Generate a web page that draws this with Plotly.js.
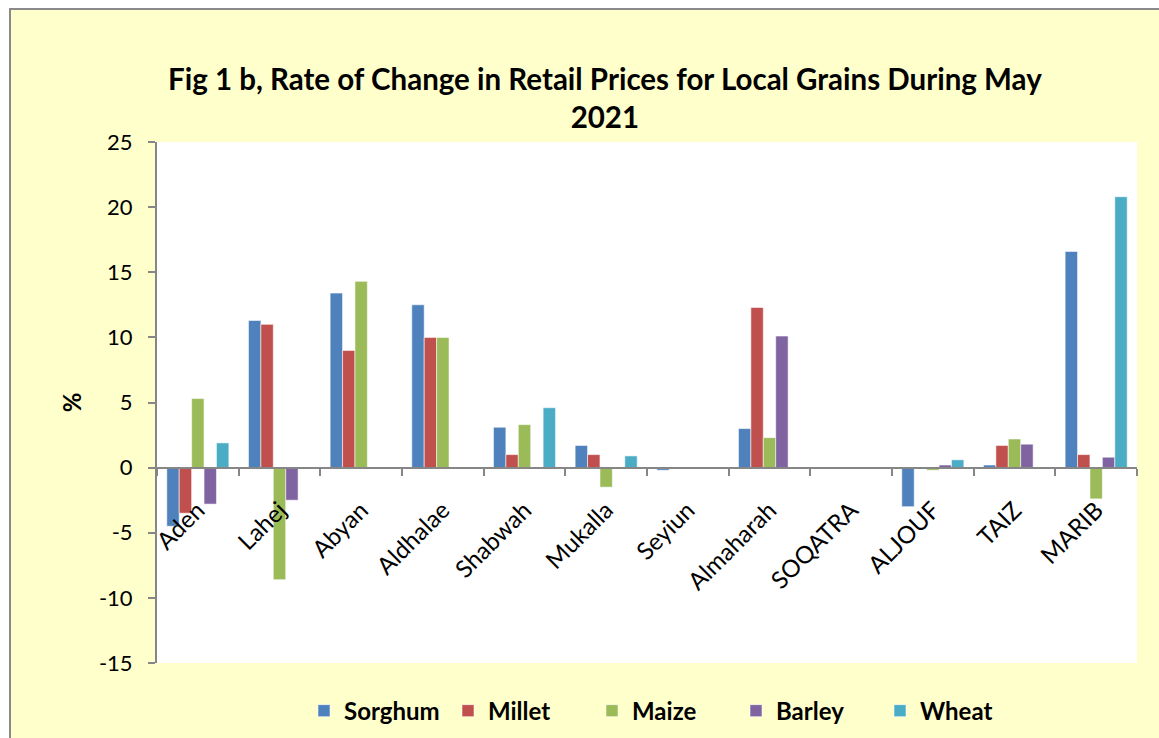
<!DOCTYPE html>
<html>
<head>
<meta charset="utf-8">
<script src="https://cdn.plot.ly/plotly-3.0.1.min.js"></script>
<style>
  html, body { margin: 0; padding: 0; background: #ffffff; width: 1159px; height: 738px; overflow: hidden; }
  #frame { position: absolute; left: 9px; top: 8px; width: 1160px; height: 740px;
           border-left: 2px solid #8a8a8a; border-top: 2px solid #8a8a8a; background: #FFFFCC; overflow: hidden; }
  #chart { position: absolute; left: -11px; top: -10px; width: 1159px; height: 738px; }
</style>
</head>
<body>
<div id="frame"><div id="chart"></div></div>
<script>
const categories = ["Aden", "Lahej", "Abyan", "Aldhalae", "Shabwah", "Mukalla", "Seyiun", "Almaharah", "SOQATRA", "ALJOUF", "TAIZ", "MARIB"];
const sorghum = [-4.5, 11.3, 13.4, 12.5, 3.1, 1.7, -0.2, 3.0, 0, -3.0, 0.2, 16.6];
const millet  = [-3.5, 11.0, 9.0, 10.0, 1.0, 1.0, 0, 12.3, 0, 0, 1.7, 1.0];
const maize   = [5.3, -8.6, 14.3, 10.0, 3.3, -1.5, 0, 2.3, 0, -0.2, 2.2, -2.4];
const barley  = [-2.8, -2.5, 0, 0, 0, 0, 0, 10.1, 0, 0.2, 1.8, 0.8];
const wheat   = [1.9, 0, 0, 0, 4.6, 0.9, 0, 0, 0, 0.6, 0, 20.8];
const seriesNames = ["Sorghum", "Millet", "Maize", "Barley", "Wheat"];
const seriesValues = [sorghum, millet, maize, barley, wheat];
const seriesColors = ["#4F81BD", "#C0504D", "#9BBB59", "#8064A2", "#4BACC6"];
const yTicks = [-15, -10, -5, 0, 5, 10, 15, 20, 25];

const FONT = "Lato, 'Open Sans', sans-serif";

const traces = seriesNames.map((name, i) => ({
  type: "bar",
  name: name,
  x: categories,
  y: seriesValues[i],
  marker: { color: seriesColors[i], line: { color: "rgba(255,255,255,0.55)", width: 1 } },
  hoverinfo: "x+y+name"
}));

const layout = {
  width: 1159,
  height: 738,
  paper_bgcolor: "rgba(0,0,0,0)",
  plot_bgcolor: "#ffffff",
  margin: { l: 157, r: 22, t: 142, b: 75, autoexpand: false },
  barmode: "group",
  bargap: 0.24,
  bargroupgap: 0,
  title: {
    text: "<b>Fig 1 b, Rate of Change in Retail Prices for Local Grains During May<br>2021</b>",
    font: { family: FONT, size: 29.5, color: "#000000" },
    x: 0.457, xanchor: "center", xref: "paper",
    y: 0.878, yanchor: "middle"
  },
  xaxis: {
    type: "category",
    anchor: "free",
    position: 0.375,
    showline: true,
    linecolor: "#868686",
    linewidth: 2,
    ticks: "outside",
    tickson: "boundaries",
    ticklen: 7,
    tickcolor: "#868686",
    tickwidth: 2,
    tickangle: -45,
    ticklabelstandoff: 18,
    showgrid: false,
    zeroline: false,
    automargin: false,
    tickfont: { family: FONT, size: 24, color: "#000000" },
    fixedrange: true
  },
  yaxis: {
    range: [-15, 25],
    tickvals: yTicks,
    ticktext: yTicks.map(String),
    showline: true,
    linecolor: "#868686",
    linewidth: 2,
    ticks: "outside",
    ticklen: 7,
    tickcolor: "#868686",
    tickwidth: 2,
    ticklabelstandoff: 11,
    showgrid: false,
    zeroline: false,
    automargin: false,
    tickfont: { family: FONT, size: 22, color: "#000000" },
    title: { text: "<b>%</b>", font: { family: FONT, size: 24, color: "#000000" }, standoff: 10 },
    fixedrange: true
  },
  showlegend: true,
  legend: {
    orientation: "h",
    x: 0.150, xanchor: "left",
    y: -0.049, yanchor: "top",
    font: { family: FONT, size: 24, color: "#000000", weight: "bold" },
    bgcolor: "rgba(0,0,0,0)",
    entrywidth: 99,
    entrywidthmode: "pixels",
    traceorder: "normal"
  }
};

Plotly.newPlot("chart", traces, layout, { displayModeBar: false, staticPlot: false });
</script>
</body>
</html>
